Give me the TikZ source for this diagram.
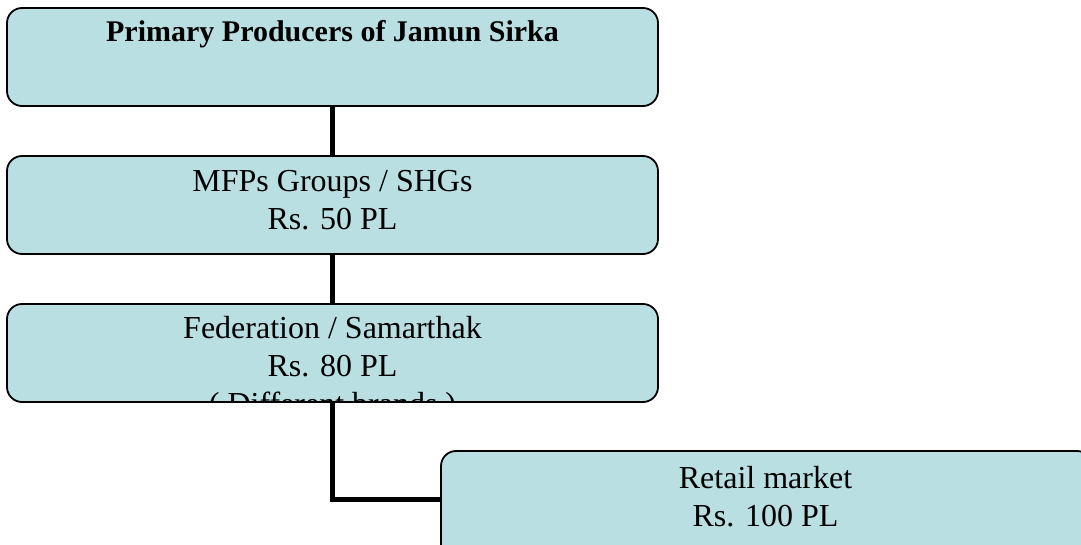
\documentclass[tikz,border=0pt]{standalone}
\usepackage{fontspec}
\setmainfont{Liberation Serif}
\definecolor{boxfill}{RGB}{185,223,227}
\begin{document}
\begin{tikzpicture}[x=1pt,y=-1pt,
  chainbox/.style={draw=black,line width=1.8pt,fill=boxfill,rounded corners=15pt,
    rectangle,inner sep=0pt,minimum height=98pt},
  lbl/.style={anchor=base,inner sep=0pt,font=\fontsize{32}{38}\selectfont},
  title/.style={anchor=base,inner sep=0pt,font=\fontsize{30}{36}\selectfont\bfseries},
  link/.style={line width=5pt,black}]
\useasboundingbox (0,0) rectangle (1081,545);

% boxes; the third one cuts off its last text line at its lower edge
\node[chainbox,minimum width=651pt] (b1) at (332.5,57) {};
\node[chainbox,minimum width=651pt] (b2) at (332.5,205) {};
\node[chainbox,minimum width=651pt,
  path picture={\node[lbl] (t3c) at ([yshift=-12pt]path picture bounding box.south)
    {( Different brands )};}] (b3) at (332.5,353) {};
\node[chainbox,minimum width=651pt,minimum height=120pt] (b4) at (766.5,511) {};
\coordinate (b4in) at ([yshift=-49pt]b4.north west);

% connectors
\draw[link] (b1.south) -- (b2.north);
\draw[link] (b2.south) -- (b3.north);
\draw[link] (b3.south) |- (b4in);

% labels
\node[title] (t1) at (332.5,42) {Primary Producers of Jamun Sirka};
\node[lbl] (t2a) at (332.5,192) {MFPs Groups / SHGs};
\node[lbl] (t2b) at (332.5,230) {Rs. 50 PL};
\node[lbl] (t3a) at (332.5,338) {Federation / Samarthak};
\node[lbl] (t3b) at (332.5,376) {Rs. 80 PL};
\node[lbl] (t4a) at (765.5,488) {Retail market};
\node[lbl] (t4b) at (765.5,526) {Rs. 100 PL};
\end{tikzpicture}
\end{document}
